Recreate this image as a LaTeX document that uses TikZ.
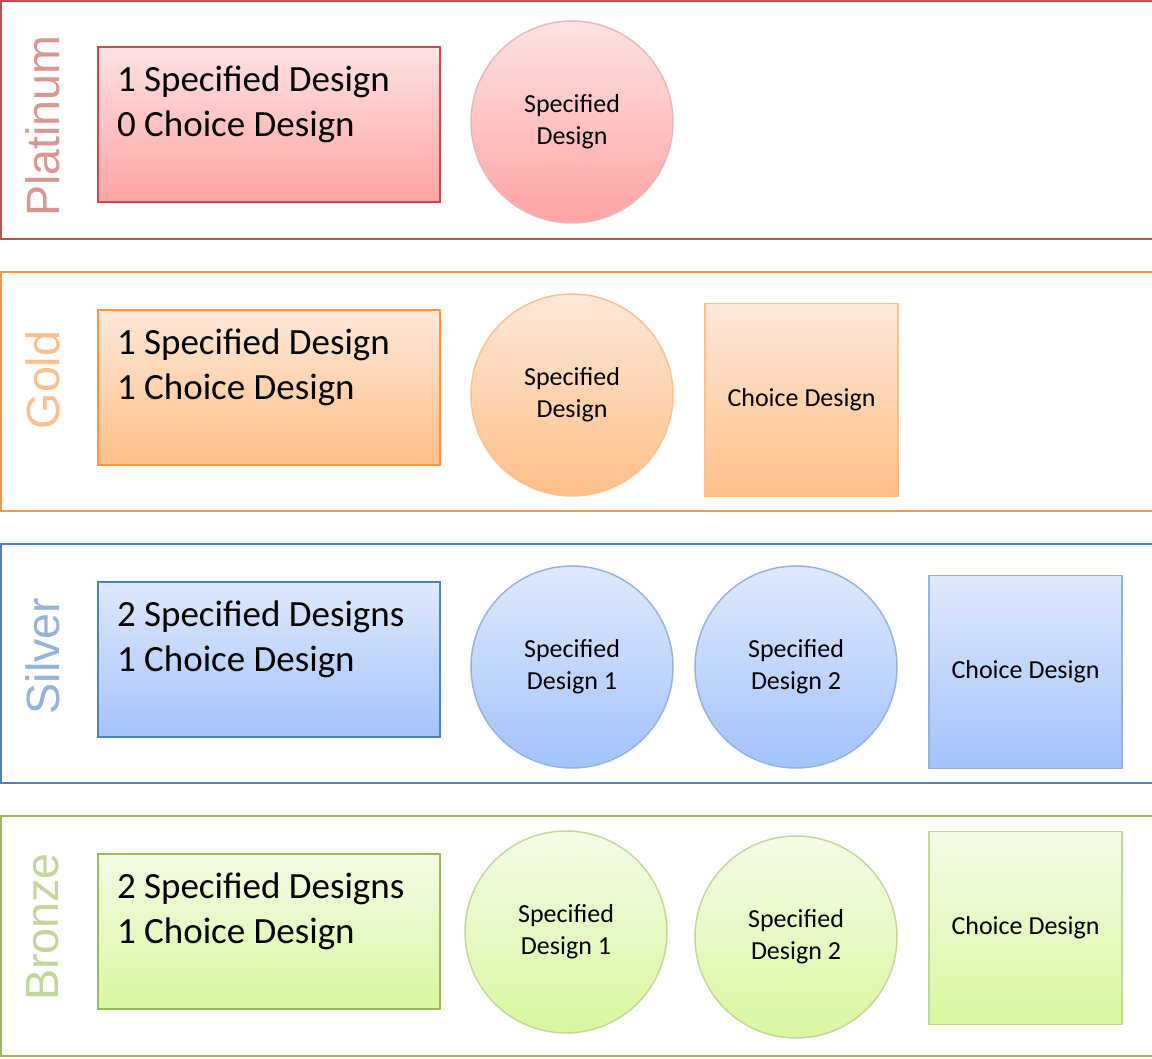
\documentclass[tikz,border=0pt]{standalone}
\usepackage{fontspec}
\setmainfont{Carlito}
\newfontfamily\tierfont{Liberation Sans}
\usetikzlibrary{positioning}

% tier colours: frame, light edge, fill top/bottom, label
\definecolor{platline}{HTML}{C0504D}
\definecolor{platlight}{HTML}{E6B9B8}
\definecolor{plattop}{HTML}{FFE2E2}
\definecolor{platbot}{HTML}{FFA3A3}
\definecolor{platlabel}{HTML}{D99694}
\definecolor{goldline}{HTML}{F79646}
\definecolor{goldlight}{HTML}{FAC090}
\definecolor{goldtop}{HTML}{FFE8D8}
\definecolor{goldbot}{HTML}{FFBF88}
\definecolor{goldlabel}{HTML}{FAC090}
\definecolor{silvline}{HTML}{4F81BD}
\definecolor{silvlight}{HTML}{95B3D7}
\definecolor{silvtop}{HTML}{DFE9FE}
\definecolor{silvbot}{HTML}{A3C3FB}
\definecolor{silvlabel}{HTML}{95B3D7}
\definecolor{bronline}{HTML}{9BBB59}
\definecolor{bronlight}{HTML}{C3D69B}
\definecolor{brontop}{HTML}{F4FCE6}
\definecolor{bronbot}{HTML}{D8F8A0}
\definecolor{bronlabel}{HTML}{C3D69B}

\newcommand{\sumtext}[2]{\parbox[c][116.25pt][t]{228pt}{\vspace*{14pt}#1\\#2}}

\tikzset{
  band/.style={draw=#1line, line width=1.5pt},
  tier/.style={rotate=90, text=#1label, inner sep=0pt,
    font=\tierfont\fontsize{35}{35}\selectfont},
  sumbox/.style={rectangle, draw=#1line, line width=1.5pt,
    top color=#1top, bottom color=#1bot, anchor=north west,
    inner xsep=14.25pt, inner ysep=0pt,
    font=\fontsize{27.75}{33.75}\selectfont},
  spec/.style={circle, draw=#1light, line width=1.1pt,
    top color=#1top, bottom color=#1bot, minimum size=151.5pt,
    inner sep=0pt, align=center, font=\fontsize{19.5}{24}\selectfont},
  choice/.style={rectangle, draw=#1light, line width=1.1pt,
    top color=#1top, bottom color=#1bot, minimum size=144.75pt,
    inner sep=0pt, align=center, font=\fontsize{19.5}{24}\selectfont},
}

\begin{document}
\begin{tikzpicture}[x=0.75pt, y=-0.75pt]
\useasboundingbox (0,0) rectangle (1152,1059);

% Platinum
\draw[band=plat] (1,1) rectangle (1160,239);
\node[tier=plat] (plat) at (43,126) {Platinum};
\node[sumbox=plat] (plat-sum) at (97,46) {\sumtext{1 Specified Design}{0 Choice Design}};
\node[spec=plat] (plat-spec) at (572,122) {Specified\\Design};

% Gold
\draw[band=gold] (1,272) rectangle (1160,511);
\node[tier=gold] (gold) at (43,380) {Gold};
\node[sumbox=gold] (gold-sum) at (97,309) {\sumtext{1 Specified Design}{1 Choice Design}};
\node[spec=gold] (gold-spec) at (572,395) {Specified\\Design};
\node[choice=gold] (gold-choice) at (801.5,400) {Choice Design};

% Silver
\draw[band=silv] (1,544) rectangle (1160,783);
\node[tier=silv] (silv) at (43,656) {Silver};
\node[sumbox=silv] (silv-sum) at (97,581) {\sumtext{2 Specified Designs}{1 Choice Design}};
\node[spec=silv] (silv-spec1) at (572,667) {Specified\\Design 1};
\node[spec=silv] (silv-spec2) at (796,667) {Specified\\Design 2};
\node[choice=silv] (silv-choice) at (1025.5,672) {Choice Design};

% Bronze
\draw[band=bron] (1,816) rectangle (1160,1056);
\node[tier=bron] (bron) at (43,927) {Bronze};
\node[sumbox=bron] (bron-sum) at (97,853) {\sumtext{2 Specified Designs}{1 Choice Design}};
\node[spec=bron] (bron-spec1) at (566,932) {Specified\\Design 1};
\node[spec=bron] (bron-spec2) at (796,937) {Specified\\Design 2};
\node[choice=bron] (bron-choice) at (1025.5,928) {Choice Design};
\end{tikzpicture}
\end{document}
